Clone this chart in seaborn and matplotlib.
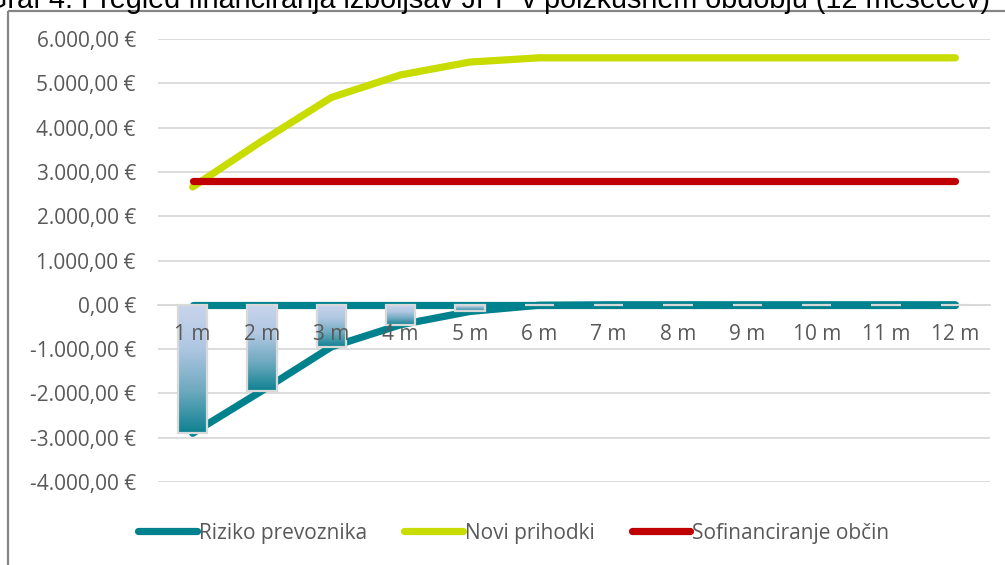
import numpy as np
import pandas as pd
import matplotlib
matplotlib.use("Agg")
import matplotlib.pyplot as plt
from matplotlib.colors import LinearSegmentedColormap
from matplotlib.lines import Line2D
import seaborn as sns


meseci = ["1 m", "2 m", "3 m", "4 m", "5 m", "6 m",
          "7 m", "8 m", "9 m", "10 m", "11 m", "12 m"]

riziko = [-2900, -1940, -950, -450, -150, -10,
          0, 0, 0, 0, 0, 0]
riziko_osnova = [0, 0, 0, 0, 0, 0, 0, 0, 0, 0, 0, 0]
novi_prihodki = [2660, 3700, 4680, 5190, 5480, 5575,
                 5575, 5575, 5575, 5575, 5575, 5575]
sofinanciranje = [2800, 2800, 2800, 2800, 2800, 2800,
                  2800, 2800, 2800, 2800, 2800, 2800]

y_ticks = [-4000, -3000, -2000, -1000, 0, 1000, 2000, 3000, 4000, 5000, 6000]

title = "Graf 4: Pregled financiranja izboljšav JPP v poizkusnem obdobju (12 mesecev)"

TEAL = "#00818E"
YELLOW = "#C8DC00"
RED = "#C00000"
GRID = "#D9D9D9"
TEXT = "#595959"

df = pd.DataFrame({
    "mesec": meseci,
    "pos": np.arange(len(meseci)),
    "riziko": riziko,
    "osnova": riziko_osnova,
    "novi": novi_prihodki,
    "sofin": sofinanciranje,
})

sns.set_theme(style="white")
plt.rcParams["font.family"] = ["Open Sans", "DejaVu Sans"]

fig = plt.figure(figsize=(10.05, 5.65), dpi=100)
ax = fig.add_axes([158 / 1005, 1 - 482 / 565, (990 - 158) / 1005, (482 - 39) / 565])

# gridlines drawn by hand so the tick labels stay above the bars
for v in y_ticks:
    ax.axhline(v, color=GRID, lw=1.3, zorder=0.5)

line_kw = dict(lw=5.2, solid_capstyle="round", solid_joinstyle="round", zorder=1.5)
sns.lineplot(data=df, x="pos", y="osnova", color=TEAL, ax=ax, **line_kw)
sns.lineplot(data=df, x="pos", y="riziko", color=TEAL, ax=ax, **line_kw)
sns.lineplot(data=df, x="pos", y="novi", color=YELLOW, ax=ax, **line_kw)
sns.lineplot(data=df, x="pos", y="sofin", color=RED, ax=ax, **line_kw)

sns.barplot(data=df, x="mesec", y="riziko", ax=ax, width=0.42,
            color=TEAL, native_scale=False)

cmap = LinearSegmentedColormap.from_list(
    "bar", ["#C8D5EC", "#B0C7E2", "#6FAAC0", "#0E8191"])
grad = np.linspace(0, 1, 256)[:, None]

for p in list(ax.patches):
    x0, y0 = p.get_x(), p.get_y()
    w, h = p.get_width(), p.get_height()
    top, bot = max(y0, y0 + h), min(y0, y0 + h)
    p.set_facecolor("none")
    p.set_edgecolor(GRID)
    p.set_linewidth(1.6)
    p.set_zorder(2.1)
    if top - bot > 0:
        im = ax.imshow(grad, extent=[x0, x0 + w, bot, top], aspect="auto",
                       cmap=cmap, origin="upper", zorder=2,
                       interpolation="bilinear")
        im.set_clip_path(p)

ax.set_xlim(-0.5, len(meseci) - 0.5)
ax.set_ylim(-4000, 6000)
ax.set_xticks(range(len(meseci)))
ax.set_xticklabels(meseci)
ax.set_yticks(y_ticks)
ax.set_yticklabels([f"{v:,.2f} €".replace(",", "X").replace(".", ",").replace("X", ".")
                    for v in y_ticks])
ax.set_xlabel("")
ax.set_ylabel("")
ax.set_axisbelow(False)
ax.xaxis.set_zorder(3)

for side in ["top", "right", "left"]:
    ax.spines[side].set_visible(False)
ax.spines["bottom"].set_position(("data", 0))
ax.spines["bottom"].set_color(GRID)
ax.spines["bottom"].set_linewidth(1.3)
ax.spines["bottom"].set_zorder(0.5)

ax.tick_params(axis="x", length=0, pad=14, labelsize=15, labelcolor=TEXT)
ax.tick_params(axis="y", length=0, pad=16, labelsize=15, labelcolor=TEXT)

# outer frame of the chart area (top and left edges are the visible ones)
frame_y = 1 - 11 / 565
frame_x = 8 / 1005
fig.add_artist(Line2D([frame_x, 1.0], [frame_y, frame_y], transform=fig.transFigure,
                      color="#868686", lw=1.6, solid_capstyle="butt"))
fig.add_artist(Line2D([frame_x, frame_x], [0.0, frame_y], transform=fig.transFigure,
                      color="#868686", lw=1.6, solid_capstyle="butt"))

fig.text(990 / 1005, 1 - 8 / 565, title, ha="right", va="baseline",
         fontsize=20.7, family="Liberation Sans", color="black")

handles = [
    Line2D([], [], color=TEAL, lw=5.2, solid_capstyle="round"),
    Line2D([], [], color=YELLOW, lw=5.2, solid_capstyle="round"),
    Line2D([], [], color=RED, lw=5.2, solid_capstyle="round"),
]
fig.legend(handles, ["Riziko prevoznika", "Novi prihodki", "Sofinanciranje občin"],
           loc="center", bbox_to_anchor=(514 / 1005, 1 - 533 / 565), ncol=3,
           frameon=False, fontsize=15, labelcolor=TEXT,
           handlelength=2.8, handletextpad=0.1, columnspacing=1.8)

fig.savefig("out.png", dpi=100)
